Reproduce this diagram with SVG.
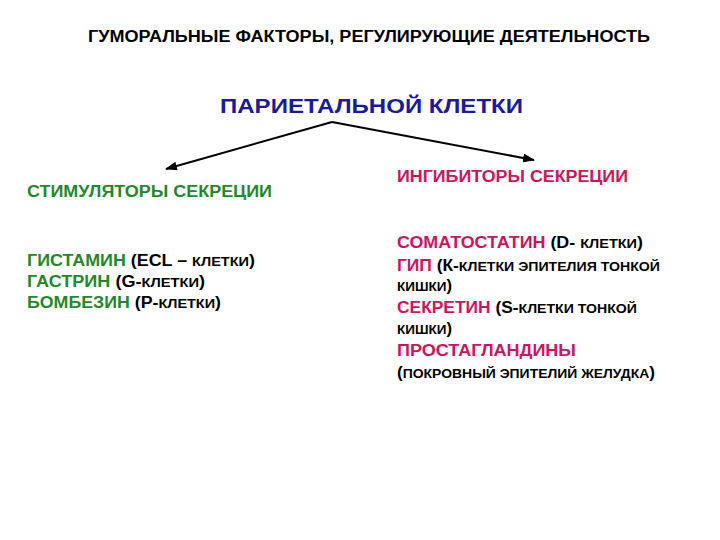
<svg xmlns="http://www.w3.org/2000/svg" width="720" height="540" viewBox="0 0 720 540">
<style>
text{font-family:"Liberation Sans",Arial,sans-serif;font-weight:bold;}
.t1{font-size:16px;fill:#000;}
.t2{font-size:21px;fill:#1a1aa0;}
.g{fill:#1f8a28;font-size:16px;}
.r{fill:#d0145c;font-size:16px;}
.k{fill:#000;font-size:16px;}
.s{font-size:13px;}
</style>
<defs>
<marker id="ah" markerWidth="12" markerHeight="9" refX="11" refY="4.5" orient="auto" markerUnits="userSpaceOnUse">
<path d="M0,0 L12,4.5 L0,9 Z" fill="#000"/>
</marker>
</defs>
<rect width="720" height="540" fill="#fff"/>
<g id="title">
<text class="t1" x="88" y="42" textLength="562" lengthAdjust="spacingAndGlyphs">ГУМОРАЛЬНЫЕ ФАКТОРЫ, РЕГУЛИРУЮЩИЕ ДЕЯТЕЛЬНОСТЬ</text>
<text class="t2" x="220" y="113" textLength="303" lengthAdjust="spacingAndGlyphs">ПАРИЕТАЛЬНОЙ КЛЕТКИ</text>
</g>
<g id="connectors" stroke="#000" stroke-width="2" fill="none">
<line x1="332" y1="122" x2="166" y2="169" marker-end="url(#ah)"/>
<line x1="332" y1="122" x2="534" y2="160" marker-end="url(#ah)"/>
</g>
<g id="stimulators">
<text class="g" x="27" y="197" textLength="245" lengthAdjust="spacingAndGlyphs">СТИМУЛЯТОРЫ СЕКРЕЦИИ</text>
<text class="g" x="27" y="266" textLength="228" lengthAdjust="spacingAndGlyphs">ГИСТАМИН <tspan class="k">(ECL – <tspan class="s">КЛЕТКИ</tspan>)</tspan></text>
<text class="g" x="27" y="287" textLength="178" lengthAdjust="spacingAndGlyphs">ГАСТРИН <tspan class="k">(G-<tspan class="s">КЛЕТКИ</tspan>)</tspan></text>
<text class="g" x="27" y="308" textLength="194" lengthAdjust="spacingAndGlyphs">БОМБЕЗИН <tspan class="k">(Р-<tspan class="s">КЛЕТКИ</tspan>)</tspan></text>
</g>
<g id="inhibitors">
<text class="r" x="397" y="182" textLength="231" lengthAdjust="spacingAndGlyphs">ИНГИБИТОРЫ СЕКРЕЦИИ</text>
<text class="r" x="397" y="248" textLength="246" lengthAdjust="spacingAndGlyphs">СОМАТОСТАТИН <tspan class="k">(D- <tspan class="s">КЛЕТКИ</tspan>)</tspan></text>
<text class="r" x="397" y="271" textLength="263" lengthAdjust="spacingAndGlyphs">ГИП <tspan class="k">(К-<tspan class="s">КЛЕТКИ ЭПИТЕЛИЯ ТОНКОЙ</tspan></tspan></text>
<text class="k" x="397" y="291" textLength="55" lengthAdjust="spacingAndGlyphs"><tspan class="s">КИШКИ</tspan>)</text>
<text class="r" x="397" y="313" textLength="240" lengthAdjust="spacingAndGlyphs">СЕКРЕТИН <tspan class="k">(S-<tspan class="s">КЛЕТКИ ТОНКОЙ</tspan></tspan></text>
<text class="k" x="397" y="334" textLength="55" lengthAdjust="spacingAndGlyphs"><tspan class="s">КИШКИ</tspan>)</text>
<text class="r" x="397" y="356" textLength="179" lengthAdjust="spacingAndGlyphs">ПРОСТАГЛАНДИНЫ</text>
<text class="k" x="397" y="378" textLength="258" lengthAdjust="spacingAndGlyphs">(<tspan class="s">ПОКРОВНЫЙ ЭПИТЕЛИЙ ЖЕЛУДКА</tspan>)</text>
</g>
</svg>
